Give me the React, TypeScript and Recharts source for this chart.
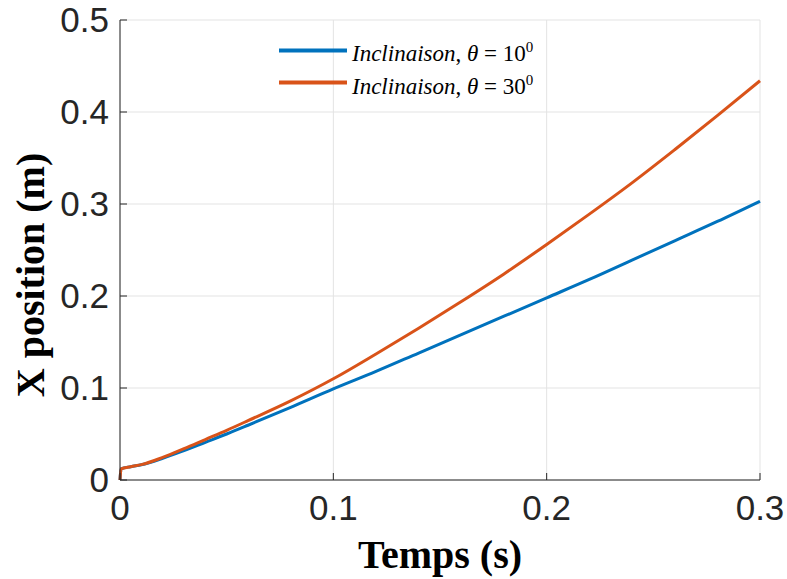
import { LineChart, Line, XAxis, YAxis, CartesianGrid } from "recharts";

// temps (s)
const times = [0, 0.0005, 0.005, 0.01, 0.02, 0.03, 0.04, 0.05, 0.06, 0.08, 0.1, 0.12, 0.14, 0.16, 0.18, 0.2, 0.22, 0.24, 0.26, 0.28, 0.3];
// position X (m), inclinaison 10 deg
const incl10 = [0, 0.012, 0.0145, 0.0165, 0.0235, 0.032, 0.041, 0.05, 0.0595, 0.079, 0.099, 0.118, 0.138, 0.158, 0.178, 0.198, 0.218, 0.239, 0.26, 0.281, 0.303];
// position X (m), inclinaison 30 deg
const incl30 = [0, 0.012, 0.0145, 0.0167, 0.0245, 0.034, 0.044, 0.054, 0.0645, 0.086, 0.11, 0.137, 0.165, 0.194, 0.224, 0.256, 0.289, 0.323, 0.359, 0.396, 0.434];

const xTicks = [0, 0.1, 0.2, 0.3];
const yTicks = [0, 0.1, 0.2, 0.3, 0.4, 0.5];

const series = [
  { key: "a", angle: "10", color: "#0072BD" },
  { key: "b", angle: "30", color: "#D95319" },
];

const data = times.map((t, i) => ({ t, a: incl10[i], b: incl30[i] }));

const axisColor = "#262626";
const tickFont = { fontFamily: "Liberation Sans, Arial, sans-serif", fontSize: 35, fill: axisColor };

const LegendBox = () => (
  <div
    style={{
      position: "absolute",
      left: 278,
      top: 34,
      fontFamily: "Liberation Serif, serif",
      fontSize: 23,
      color: "#000",
      lineHeight: "27px",
    }}
  >
    {series.map((s) => (
      <div key={s.key} style={{ display: "flex", alignItems: "center" }}>
        <svg width={70} height={27}>
          <line x1={1} x2={69} y1={13.5} y2={13.5} stroke={s.color} strokeWidth={4} />
        </svg>
        <span style={{ marginLeft: 4, whiteSpace: "nowrap" }}>
          <i>Inclinaison</i>, <i>θ</i> = {s.angle}
          <sup style={{ fontSize: 15 }}>0</sup>
        </span>
      </div>
    ))}
  </div>
);

const App = () => {
  return (
    <div style={{ position: "absolute", left: 0, top: 0, width: 787, height: 579, background: "#fff" }}>
      <LineChart width={787} height={579} data={data} margin={{ top: 20, right: 27, bottom: 0, left: 0 }}>
        <CartesianGrid stroke="#e3e3e3" strokeWidth={1} />
        <XAxis
          dataKey="t"
          type="number"
          domain={[0, 0.3]}
          ticks={xTicks}
          height={99}
          stroke={axisColor}
          tickSize={-7}
          tickMargin={22}
          tick={tickFont}
          label={({ viewBox }: any) => (
            <text
              x={viewBox.x + viewBox.width / 2}
              y={viewBox.y + 88}
              textAnchor="middle"
              fontFamily="Liberation Serif, serif"
              fontWeight="bold"
              fontSize={40}
              fill="#000"
            >
              Temps (s)
            </text>
          )}
        />
        <XAxis xAxisId="top" orientation="top" type="number" domain={[0, 0.3]} ticks={xTicks} height={0} stroke={axisColor} tickSize={-7} tick={false} />
        <YAxis
          type="number"
          domain={[0, 0.5]}
          ticks={yTicks}
          width={120}
          stroke={axisColor}
          tickSize={-7}
          tickMargin={18}
          tick={tickFont}
          label={({ viewBox }: any) => (
            <text
              x={30}
              y={viewBox.y + viewBox.height / 2 + 25}
              transform={`rotate(-90, 30, ${viewBox.y + viewBox.height / 2 + 25})`}
              textAnchor="middle"
              dominantBaseline="central"
              fontFamily="Liberation Serif, serif"
              fontWeight="bold"
              fontSize={40}
              fill="#000"
            >
              X position (m)
            </text>
          )}
        />
        <YAxis yAxisId="right" orientation="right" type="number" domain={[0, 0.5]} ticks={yTicks} width={0} stroke={axisColor} tickSize={-7} tick={false} />
        {series.map((s) => (
          <Line key={s.key} dataKey={s.key} type="monotone" stroke={s.color} strokeWidth={3} dot={false} isAnimationActive={false} />
        ))}
      </LineChart>
      <LegendBox />
    </div>
  );
};

export default App;
